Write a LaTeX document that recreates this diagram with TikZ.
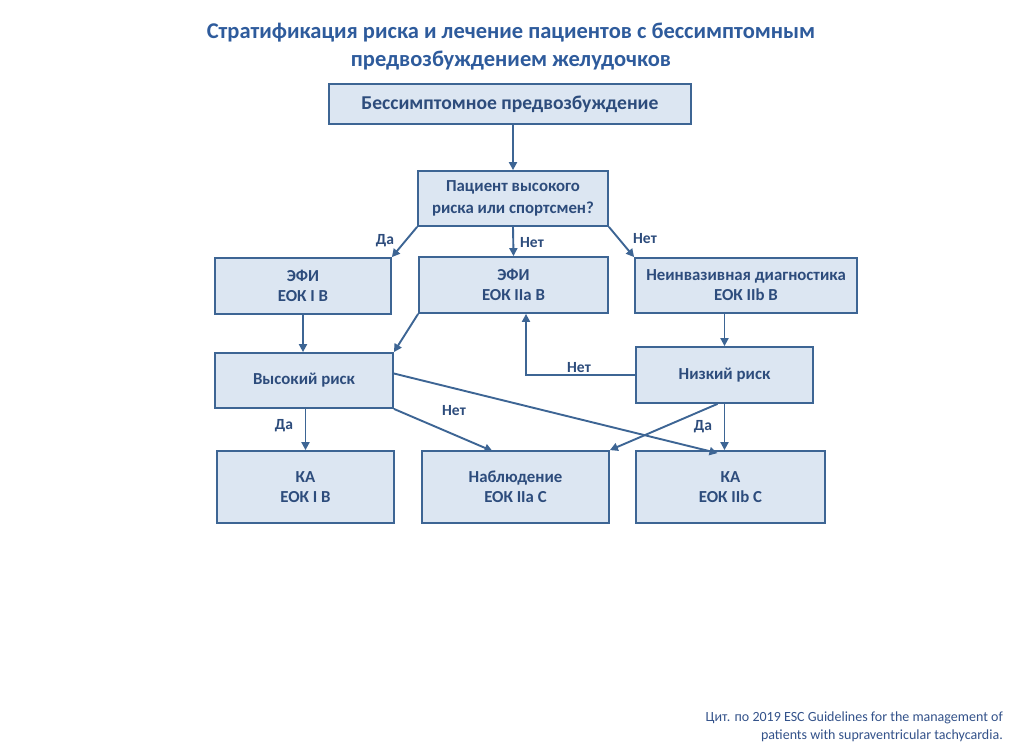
\documentclass[tikz,border=0pt]{standalone}
\usepackage{fontspec}
\setmainfont{Carlito}
\usetikzlibrary{arrows.meta,calc}
\definecolor{boxfill}{HTML}{DCE6F2}
\definecolor{boxline}{HTML}{3D6594}
\definecolor{txt}{HTML}{2D4C7C}
\definecolor{ttl}{HTML}{2E5B9C}
\definecolor{foot}{HTML}{33528A}
\begin{document}
\begin{tikzpicture}[x=1pt,y=-1pt,
  box/.style={draw=boxline,fill=boxfill,line width=1.8pt,text=txt,
    font=\fontsize{16.8}{20}\selectfont\bfseries,align=center,inner sep=0pt,anchor=center},
  conn/.style={draw=boxline,line width=1.9pt,-{Triangle[length=8pt,width=8pt]}},
  lbl/.style={text=txt,font=\fontsize{15.5}{17}\selectfont\bfseries,inner sep=0pt}]
\useasboundingbox (0,0) rectangle (1009,755);
\fill[white] (0,0) rectangle (1009,755);
% title
\node[text=ttl,font=\fontsize{22.5}{28}\selectfont\bfseries,align=center] (title) at (511,47)
  {Стратификация риска и лечение пациентов с бессимптомным\\предвозбуждением желудочков};
% boxes
\node[box,minimum width=362pt,minimum height=40pt,font=\fontsize{19.6}{22}\selectfont\bfseries] (top) at (510,104) {Бессимптомное предвозбуждение};
\node[box,minimum width=190pt,minimum height=55pt,font=\fontsize{16.8}{22}\selectfont\bfseries] (q) at (513,198.5) {Пациент высокого\\риска или спортсмен?};
\node[box,minimum width=176pt,minimum height=56pt] (e1) at (303,286) {ЭФИ\\ЕОК I B};
\node[box,minimum width=189pt,minimum height=56pt] (e2) at (513.5,285) {ЭФИ\\ЕОК IIa B};
\node[box,minimum width=222pt,minimum height=55pt] (ni) at (746,285.5) {Неинвазивная диагностика\\ЕОК IIb B};
\node[box,minimum width=178pt,minimum height=55pt] (hr) at (304,380.5) {Высокий риск};
\node[box,minimum width=177pt,minimum height=56pt] (lr) at (724.5,375) {Низкий риск};
\node[box,minimum width=177pt,minimum height=72pt] (k1) at (305.5,487) {КА\\ЕОК I B};
\node[box,minimum width=187pt,minimum height=72pt] (ob) at (515.5,487) {Наблюдение\\ЕОК IIa C};
\node[box,minimum width=189pt,minimum height=72pt] (k2) at (730.5,487) {КА\\ЕОК IIb C};
% connectors
\draw[conn] (q.north |- top.south) -- (q.north);
\draw[conn] (q.south west) -- (e1.north east);
\draw[conn] (q.south) -- (e2.north);
\draw[conn] (q.south east) -- (ni.north west);
\draw[conn] (e1.south) -- (e1.south |- hr.north);
\draw[conn] (e2.south west) -- (hr.north east);
\draw[conn] (lr.north |- ni.south) -- (lr.north);
\coordinate (e2b) at ([xshift=12.5pt]e2.south);
\draw[conn] (lr.west) -| (e2b);
\draw[conn] ([yshift=7pt]hr.east) -- ([xshift=-13pt,yshift=-3pt]k2.north);
\draw[conn] (hr.south east) -- ([xshift=-23pt,yshift=-1pt]ob.north);
\draw[conn] (k1.north |- hr.south) -- (k1.north);
\draw[conn] ([xshift=-7pt]lr.south) -- (ob.north east);
\draw[conn] (lr.south) -- (lr.south |- k2.north);
% labels
\node[lbl] (l1) at (385,241) {Да};
\node[lbl] (l2) at (532,243) {Нет};
\node[lbl] (l3) at (645,239) {Нет};
\node[lbl] (l4) at (579,368) {Нет};
\node[lbl] (l5) at (454,411) {Нет};
\node[lbl] (l6) at (284,426) {Да};
\node[lbl] (l7) at (703,427) {Да};
% footnote
\node[text=foot,font=\fontsize{14}{18}\selectfont,align=right,anchor=east,inner sep=0pt] (fn) at (1003,727)
  {Цит. по 2019 ESC Guidelines for the management of\\patients with supraventricular tachycardia.};
\end{tikzpicture}
\end{document}
